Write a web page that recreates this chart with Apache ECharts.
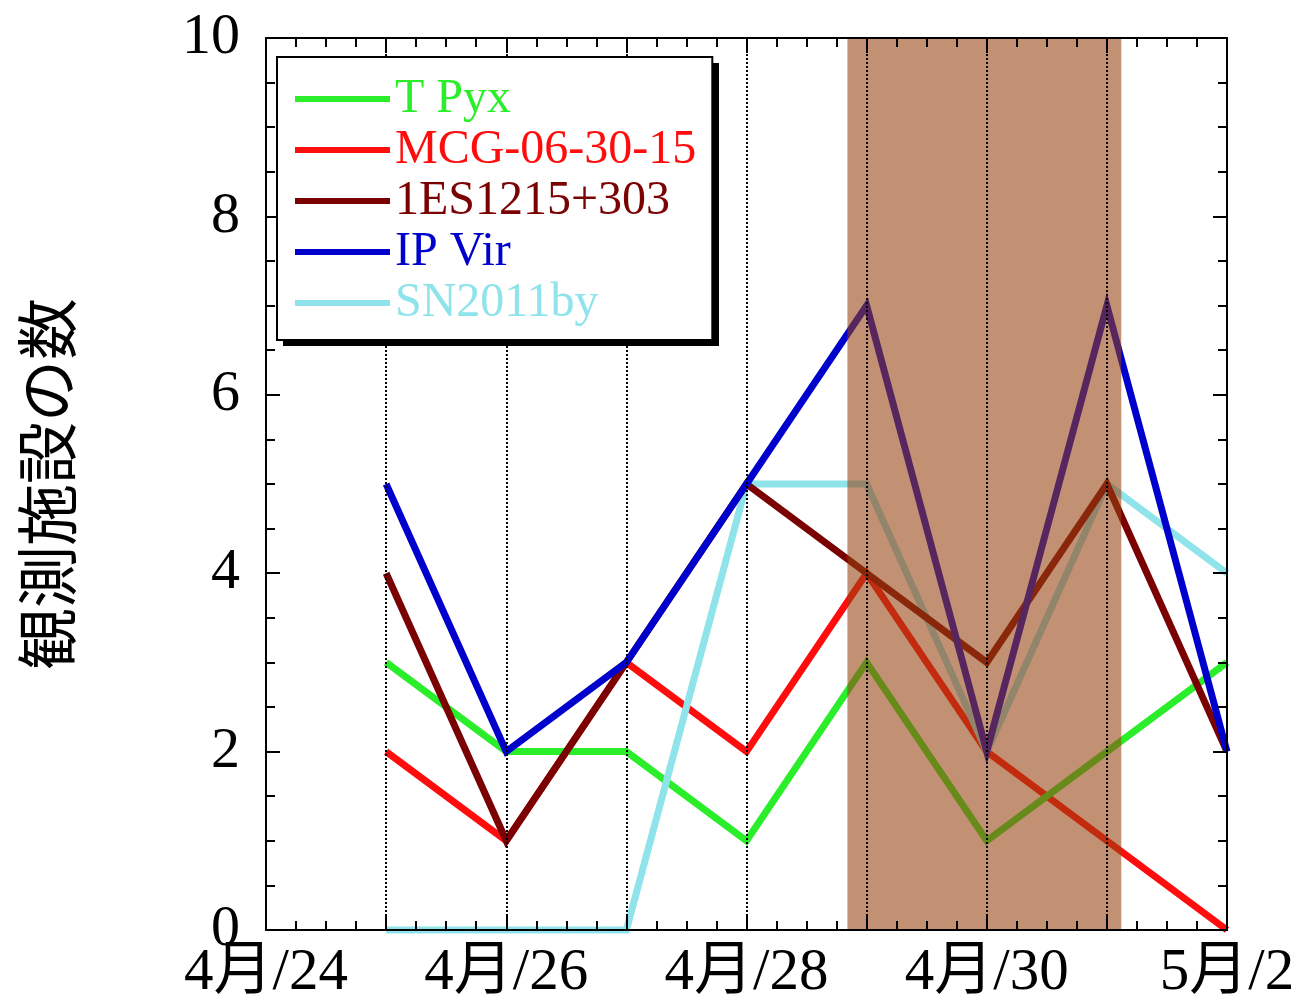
<!DOCTYPE html>
<html>
<head>
<meta charset="utf-8">
<script src="https://cdn.jsdelivr.net/npm/echarts@6/dist/echarts.min.js"></script>
<style>
html,body{margin:0;padding:0;background:#fff;}
#chart{width:1301px;height:1006px;}
</style>
</head>
<body>
<div id="chart"></div>
<script>
// x positions: days since 4/24 (1 = 4/25 ... 8 = 5/2)
const dayIndex = [1, 2, 3, 4, 5, 6, 7, 8];
const xTickLabels = ['4月/24', '4月/26', '4月/28', '4月/30', '5月/2'];
const yTickLabels = ['0', '2', '4', '6', '8', '10'];

const seriesNames = ['T Pyx', 'MCG-06-30-15', '1ES1215+303', 'IP Vir', 'SN2011by'];
const tPyx      = [3, 2, 2, 1, 3, 1, 2, 3];
const mcg063015 = [2, 1, 3, 2, 4, 2, 1, 0];
const es1215    = [4, 1, 3, 5, 4, 3, 5, 2];
const ipVir     = [5, 2, 3, 5, 7, 2, 7, 2];
const sn2011by  = [0, 0, 0, 5, 5, 2, 5, 4];

// highlighted period (days since 4/24)
const highlightRange = [4.84, 7.12];

const colors = {
  'T Pyx': '#2aee2a',
  'MCG-06-30-15': '#ff0d0d',
  '1ES1215+303': '#7a0202',
  'IP Vir': '#0000cc',
  'SN2011by': '#8fe3ea'
};
const valuesByName = {
  'T Pyx': tPyx,
  'MCG-06-30-15': mcg063015,
  '1ES1215+303': es1215,
  'IP Vir': ipVir,
  'SN2011by': sn2011by
};
// drawing order (later on top)
const drawOrder = ['MCG-06-30-15', 'T Pyx', 'SN2011by', '1ES1215+303', 'IP Vir'];

const serifFont = "'Liberation Serif', 'Noto Sans CJK JP', serif";

function xFmt(v) {
  if (Math.round(v) % 2 !== 0) return '';
  return xTickLabels[Math.round(v) / 2] || '';
}

const axisCommonX = {
  type: 'value', min: 0, max: 8, interval: 1,
  axisLine: { show: true, onZero: false, lineStyle: { color: '#000', width: 2 } },
  axisTick: { show: true, inside: true, length: 15, lineStyle: { color: '#000', width: 2 } },
  minorTick: { show: true, splitNumber: 4, length: 9, lineStyle: { color: '#000', width: 2 } },
  z: 10
};
const axisCommonY = {
  type: 'value', min: 0, max: 10, interval: 2,
  axisLine: { show: true, onZero: false, lineStyle: { color: '#000', width: 2 } },
  axisTick: { show: true, inside: true, length: 14, lineStyle: { color: '#000', width: 2 } },
  minorTick: { show: true, splitNumber: 4, length: 9, lineStyle: { color: '#000', width: 2 } },
  splitLine: { show: false },
  z: 10
};

const lineSeries = drawOrder.map(name => ({
  name: name,
  type: 'line',
  data: dayIndex.map((d, i) => [d, valuesByName[name][i]]),
  symbol: 'none',
  clip: false,
  lineStyle: { color: colors[name], width: 7, join: 'miter' },
  itemStyle: { color: colors[name] },
  z: 2,
  animation: false
}));

const shadeSeries = {
  name: 'shade',
  type: 'line',
  data: [],
  silent: true,
  markArea: {
    silent: true,
    z: 5,
    itemStyle: { color: 'rgba(150,65,15,0.58)' },
    data: [[{ xAxis: highlightRange[0] }, { xAxis: highlightRange[1] }]]
  },
  animation: false
};

const option = {
  backgroundColor: '#fff',
  animation: false,
  grid: { left: 266, right: 74, top: 38, bottom: 76, containLabel: false },
  graphic: [{
    type: 'rect', z: 19, silent: true,
    left: 283, top: 63,
    shape: { width: 436, height: 283 },
    style: { fill: '#000' }
  }],
  legend: {
    left: 277, top: 57, z: 20,
    orient: 'vertical',
    data: seriesNames.map(n => ({ name: n, icon: 'rect', itemStyle: { color: colors[n] }, textStyle: { color: colors[n] } })),
    itemWidth: 95, itemHeight: 6, itemGap: 3,
    padding: [18, 16, 13, 18],
    backgroundColor: '#fff',
    borderColor: '#000', borderWidth: 2, borderRadius: 0,
    textStyle: { fontFamily: serifFont, fontSize: 48, lineHeight: 46 },
    selectedMode: false
  },
  xAxis: [
    Object.assign({}, axisCommonX, {
      position: 'bottom',
      axisLabel: { show: true, formatter: xFmt, color: '#000', fontFamily: serifFont, fontSize: 59, margin: 14 },
      splitLine: { show: true, lineStyle: { color: '#000', width: 2, type: [2, 2] } }
    }),
    Object.assign({}, axisCommonX, {
      position: 'top',
      axisLabel: { show: false },
      splitLine: { show: false }
    })
  ],
  yAxis: [
    Object.assign({}, axisCommonY, {
      position: 'left',
      name: '観測施設の数',
      nameLocation: 'middle',
      nameGap: 188,
      nameTextStyle: { fontFamily: "'Noto Sans CJK JP', sans-serif", fontSize: 62, color: '#000' },
      axisLabel: { show: true, color: '#000', fontFamily: serifFont, fontSize: 58, margin: 26,
        formatter: v => yTickLabels[Math.round(v / 2)] }
    }),
    Object.assign({}, axisCommonY, {
      position: 'right',
      axisLabel: { show: false }
    })
  ],
  series: lineSeries.concat([shadeSeries])
};

const chart = echarts.init(document.getElementById('chart'), null, { renderer: 'canvas' });
chart.setOption(option);
</script>
</body>
</html>
